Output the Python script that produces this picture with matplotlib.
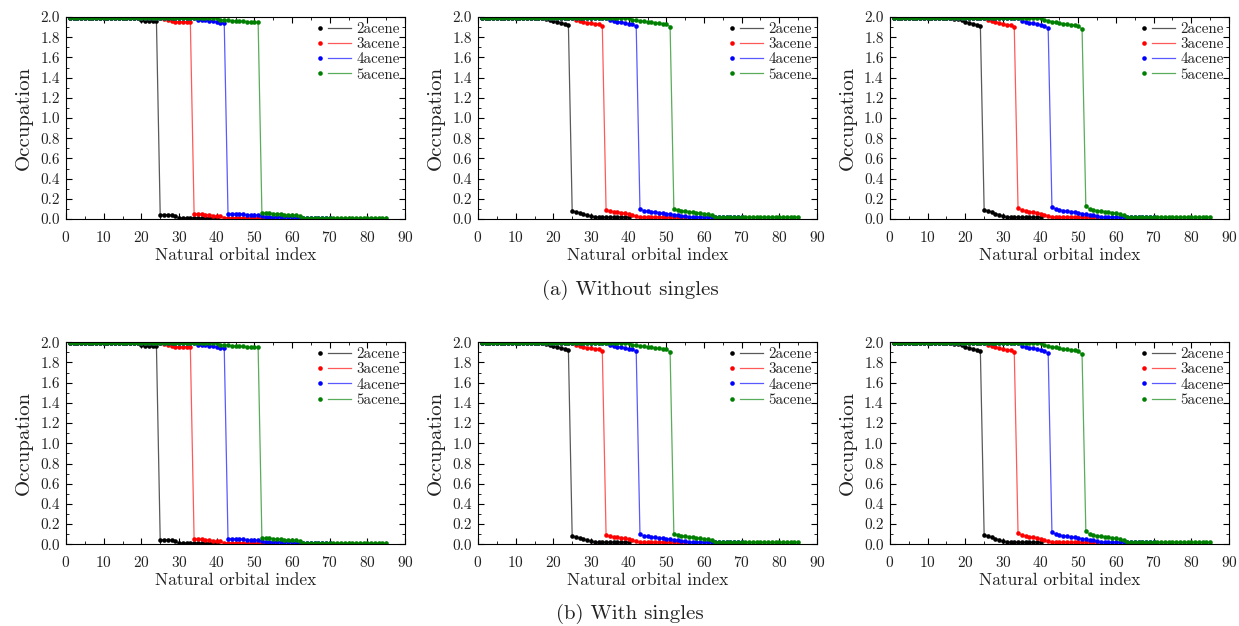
import matplotlib
matplotlib.use('Agg')
import matplotlib.pyplot as plt
from matplotlib.lines import Line2D
from matplotlib.legend_handler import HandlerBase

plt.rcParams['font.family'] = 'serif'
plt.rcParams['font.serif'] = ['cmr10']
plt.rcParams['mathtext.fontset'] = 'cm'
plt.rcParams['axes.formatter.use_mathtext'] = True

# occupations; the "with singles" row looks the same as the "without" row
labels = ['2acene', '3acene', '4acene', '5acene']
colors = ['black', 'red', 'blue', 'green']

# left column
c1_2acene = [1.995]*19 + [1.97, 1.96, 1.96, 1.96, 1.96] + [0.045, 0.045, 0.045, 0.04, 0.03] + [0.015]*6 + [0.01]*5
c1_3acene = [1.995]*25 + [1.98, 1.975, 1.96, 1.955, 1.955, 1.955, 1.955, 1.955] + \
    [0.055, 0.05, 0.05, 0.045, 0.045, 0.035, 0.03, 0.03] + [0.015]*14
c1_4acene = [1.995]*34 + [1.97, 1.97, 1.97, 1.965, 1.965, 1.95, 1.945, 1.945] + \
    [0.055, 0.055, 0.055, 0.055, 0.05, 0.04, 0.04, 0.04, 0.04, 0.035] + [0.025]*8 + [0.01]*10
c1_5acene = [1.995]*40 + [1.975, 1.97, 1.97, 1.965, 1.965, 1.96, 1.96, 1.955, 1.95, 1.95, 1.95] + \
    [0.06, 0.06, 0.06, 0.055, 0.055, 0.05, 0.045, 0.045, 0.04, 0.04, 0.035] + [0.012]*23

# middle column
c2_2acene = [1.99]*17 + [1.985, 1.975, 1.96, 1.95, 1.945, 1.935, 1.92] + \
    [0.085, 0.07, 0.065, 0.05, 0.04, 0.03] + [0.02]*10
c2_3acene = [1.99]*25 + [1.975, 1.96, 1.955, 1.945, 1.94, 1.935, 1.93, 1.915] + \
    [0.095, 0.08, 0.075, 0.07, 0.065, 0.06, 0.05, 0.04, 0.03] + [0.02]*13
c2_4acene = [1.99]*34 + [1.97, 1.96, 1.955, 1.95, 1.94, 1.935, 1.93, 1.91] + \
    [0.10, 0.085, 0.08, 0.075, 0.07, 0.065, 0.06, 0.055, 0.05, 0.045, 0.04, 0.035, 0.03] + [0.02]*15
c2_5acene = [1.99]*40 + [1.975, 1.97, 1.965, 1.96, 1.955, 1.95, 1.945, 1.94, 1.935, 1.93, 1.905] + \
    [0.10, 0.09, 0.085, 0.08, 0.075, 0.07, 0.065, 0.06, 0.055, 0.05, 0.04] + [0.02]*23

# right column
c3_2acene = [1.99]*16 + [1.985, 1.98, 1.97, 1.955, 1.945, 1.935, 1.925, 1.91] + \
    [0.095, 0.08, 0.07, 0.055, 0.045, 0.03] + [0.02]*10
c3_3acene = [1.99]*25 + [1.97, 1.96, 1.95, 1.94, 1.93, 1.925, 1.92, 1.90] + \
    [0.11, 0.09, 0.085, 0.075, 0.07, 0.065, 0.055, 0.045, 0.035] + [0.02]*13
c3_4acene = [1.99]*34 + [1.965, 1.955, 1.945, 1.94, 1.93, 1.925, 1.915, 1.89] + \
    [0.12, 0.10, 0.09, 0.085, 0.08, 0.075, 0.07, 0.065, 0.055, 0.05, 0.045, 0.04, 0.03] + [0.02]*15
c3_5acene = [1.99]*40 + [1.975, 1.965, 1.955, 1.95, 1.94, 1.935, 1.93, 1.925, 1.92, 1.91, 1.88] + \
    [0.13, 0.10, 0.09, 0.085, 0.08, 0.075, 0.07, 0.065, 0.06, 0.05, 0.04] + [0.02]*23

columns = [[c1_2acene, c1_3acene, c1_4acene, c1_5acene],
           [c2_2acene, c2_3acene, c2_4acene, c2_5acene],
           [c3_2acene, c3_3acene, c3_4acene, c3_5acene]]
captions = ['(a) Without singles', '(b) With singles']


class DotThenLine(HandlerBase):
    # legend key: a dot on the left, then a short line
    def create_artists(self, legend, orig_handle, xdescent, ydescent, width, height, fontsize, trans):
        col = orig_handle.get_color()
        y = height / 2 - ydescent
        x0 = -xdescent
        m = Line2D([x0 + 0.1 * width], [y], marker='o', ls='none', color=col, ms=3.3, mew=0)
        l = Line2D([x0 + 0.33 * width, x0 + width], [y, y], color=col, lw=0.9, alpha=0.65)
        m.set_transform(trans)
        l.set_transform(trans)
        return [m, l]


fig = plt.figure(figsize=(12.39, 6.26), dpi=100)
lefts = [0.0533, 0.3858, 0.7183]
bottoms = [0.650, 0.1305]
w, h = 0.2736, 0.3227
tc = '#222222'

for r in range(2):
    for c in range(3):
        ax = fig.add_axes([lefts[c], bottoms[r], w, h])
        handles = []
        for ys, lab, col in zip(columns[c], labels, colors):
            x = list(range(1, len(ys) + 1))
            ax.plot(x, ys, '-', color=col, lw=0.9, alpha=0.65)
            ax.plot(x, ys, 'o', color=col, ms=3.3, mew=0)
            handles.append(Line2D([], [], color=col))
        ax.set_xlim(0, 90)
        ax.set_ylim(0, 2.0)
        ax.set_xticks(range(0, 91, 10))
        ax.set_xticks(range(0, 91, 5), minor=True)
        ax.set_yticks([i * 0.2 for i in range(11)])
        ax.set_yticks([i * 0.1 for i in range(21)], minor=True)
        ax.set_yticklabels(['%.1f' % (i * 0.2) for i in range(11)])
        ax.tick_params(which='both', direction='in', top=True, right=True, labelsize=11, labelcolor=tc)
        ax.tick_params(which='major', length=4)
        ax.tick_params(which='minor', length=2)
        ax.tick_params(axis='x', pad=7.5)
        ax.tick_params(axis='y', pad=4.5)
        ax.set_xlabel('Natural orbital index', fontsize=12.5, color=tc, labelpad=2)
        ax.set_ylabel('Occupation', fontsize=15, color=tc, labelpad=5)
        leg = ax.legend(handles, labels, handler_map={Line2D: DotThenLine()},
                        loc='upper right', frameon=False, fontsize=10.8, handlelength=2.3,
                        handletextpad=0.35, labelspacing=0.1, borderaxespad=0.15, borderpad=0.2)
        for t in leg.get_texts():
            t.set_color(tc)
    fig.text(630 / 1239, [1 - 290 / 626, 1 - 614 / 626][r], captions[r], ha='center', va='center',
             fontsize=15, color=tc)

fig.savefig('out.png', dpi=100)
